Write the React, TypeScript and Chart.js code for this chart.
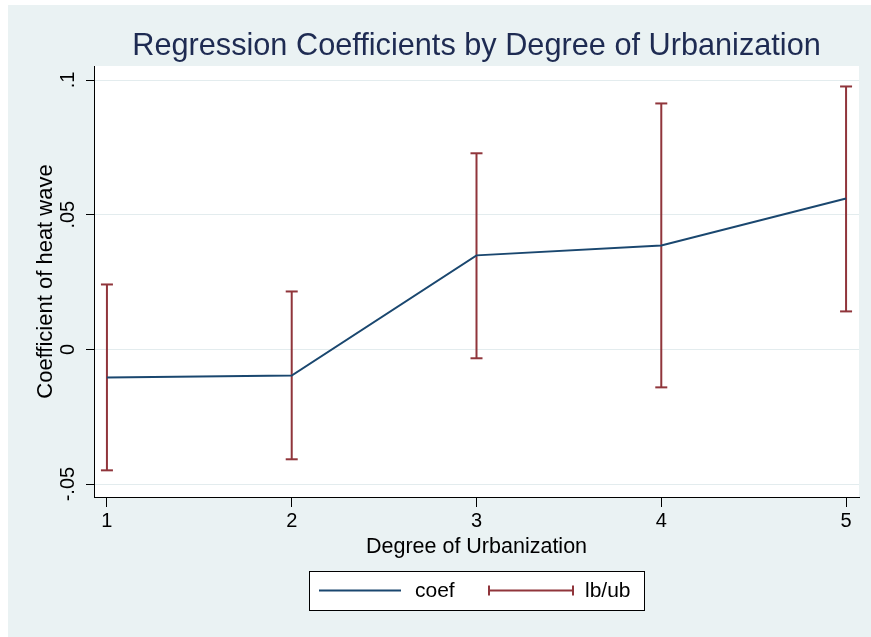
import React, { useEffect, useRef } from "react";
import { Chart, registerables } from "chart.js";

Chart.register(...registerables);

const categories = [1, 2, 3, 4, 5];
const coef = [-0.0104, -0.0097, 0.0349, 0.0386, 0.056];
const lb = [-0.0449, -0.0408, -0.0033, -0.0141, 0.0141];
const ub = [0.0241, 0.0215, 0.0728, 0.0913, 0.0976];
const yTickValues = [-0.05, 0, 0.05, 0.1];
const yTickLabels = ["-.05", "0", ".05", ".1"];
const xTickValues = [1, 2, 3, 4, 5];

const TITLE = "Regression Coefficients by Degree of Urbanization";
const X_TITLE = "Degree of Urbanization";
const Y_TITLE = "Coefficient of heat wave";
const LEGEND_LABELS = ["coef", "lb/ub"];

const FONT = "'Liberation Sans', Arial, Helvetica, sans-serif";
const BG = "#EAF2F3";
const NAVY = "#1a476f";
const MAROON = "#90353b";

export default function App() {
  const ref = useRef<HTMLCanvasElement | null>(null);

  useEffect(() => {
    const canvas = ref.current;
    if (!canvas) return;

    const errData: any[] = [];
    const errRadius: number[] = [];
    categories.forEach((c, i) => {
      errData.push({ x: c, y: lb[i] });
      errData.push({ x: c, y: ub[i] });
      errData.push({ x: c, y: null });
      errRadius.push(6, 6, 0);
    });

    const decor = {
      id: "decor",
      beforeDraw(chart: any) {
        const { ctx, chartArea } = chart;
        ctx.save();
        ctx.fillStyle = "#ffffff";
        ctx.fillRect(0, 0, chart.width, chart.height);
        ctx.fillStyle = BG;
        ctx.fillRect(8, 5, chart.width - 8, chart.height - 5);
        ctx.fillStyle = "#ffffff";
        ctx.fillRect(chartArea.left, chartArea.top, chartArea.right - chartArea.left, chartArea.bottom - chartArea.top);
        ctx.restore();
      },
      afterDraw(chart: any) {
        const { ctx, chartArea, scales } = chart;
        const y = scales.y;
        ctx.save();
        // title
        ctx.fillStyle = "#1e2b52";
        ctx.font = `30.7px ${FONT}`;
        ctx.textAlign = "center";
        ctx.textBaseline = "alphabetic";
        ctx.fillText(TITLE, (chartArea.left + chartArea.right) / 2, 55);

        // y tick labels (rotated)
        ctx.fillStyle = "#000";
        ctx.font = `20px ${FONT}`;
        yTickValues.forEach((v, i) => {
          const py = y.getPixelForValue(v);
          ctx.save();
          ctx.translate(74, py);
          ctx.rotate(-Math.PI / 2);
          ctx.textAlign = "center";
          ctx.textBaseline = "alphabetic";
          ctx.fillText(yTickLabels[i], 0, 0);
          ctx.restore();
        });

        // y title
        ctx.save();
        ctx.font = `22px ${FONT}`;
        ctx.translate(52, (chartArea.top + chartArea.bottom) / 2);
        ctx.rotate(-Math.PI / 2);
        ctx.textAlign = "center";
        ctx.textBaseline = "alphabetic";
        ctx.fillText(Y_TITLE, 0, 0);
        ctx.restore();

        // x title
        ctx.font = `21.5px ${FONT}`;
        ctx.textAlign = "center";
        ctx.textBaseline = "alphabetic";
        ctx.fillText(X_TITLE, (chartArea.left + chartArea.right) / 2, 553);

        // legend
        const bx = 309.5, by = 571.5, bw = 335, bh = 39;
        ctx.fillStyle = "#fff";
        ctx.fillRect(bx, by, bw, bh);
        ctx.strokeStyle = "#000";
        ctx.lineWidth = 1;
        ctx.strokeRect(bx, by, bw, bh);
        const ly = 590.5;
        ctx.strokeStyle = NAVY;
        ctx.lineWidth = 2;
        ctx.beginPath();
        ctx.moveTo(319, ly);
        ctx.lineTo(401, ly);
        ctx.stroke();
        ctx.strokeStyle = MAROON;
        ctx.beginPath();
        ctx.moveTo(489, ly);
        ctx.lineTo(573, ly);
        ctx.moveTo(489, ly - 5);
        ctx.lineTo(489, ly + 5);
        ctx.moveTo(573, ly - 5);
        ctx.lineTo(573, ly + 5);
        ctx.stroke();
        ctx.fillStyle = "#000";
        ctx.font = `21px ${FONT}`;
        ctx.textAlign = "left";
        ctx.textBaseline = "middle";
        ctx.fillText(LEGEND_LABELS[0], 415, ly + 1);
        ctx.fillText(LEGEND_LABELS[1], 585, ly + 1);
        ctx.restore();
      },
    };

    const chart = new Chart(canvas, {
      type: "line",
      data: {
        datasets: [
          {
            label: LEGEND_LABELS[0],
            data: categories.map((c, i) => ({ x: c, y: coef[i] })),
            borderColor: NAVY,
            borderWidth: 2,
            pointRadius: 0,
            tension: 0,
            fill: false,
            order: 1,
          },
          {
            label: LEGEND_LABELS[1],
            data: errData,
            borderColor: MAROON,
            borderWidth: 2,
            pointStyle: "line",
            pointRadius: errRadius,
            pointBorderColor: MAROON,
            pointBorderWidth: 2,
            spanGaps: false,
            fill: false,
            order: 2,
          },
        ],
      },
      options: {
        responsive: false,
        animation: false,
        devicePixelRatio: 1,
        layout: { padding: { top: 66, right: 12, left: 0, bottom: 0 } },
        plugins: {
          legend: { display: false },
          tooltip: { enabled: false },
          title: { display: false },
        },
        scales: {
          x: {
            type: "linear",
            min: 0.93,
            max: 5.07,
            afterBuildTicks: (s: any) => {
              s.ticks = xTickValues.map((v) => ({ value: v }));
            },
            afterFit: (s: any) => {
              s.height = 140;
            },
            grid: { drawOnChartArea: false, drawTicks: true, tickLength: 10, tickColor: "#000", tickWidth: 1 },
            border: { display: true, color: "#000", width: 1 },
            ticks: {
              color: "#000",
              font: { family: FONT, size: 20 },
              padding: 2,
              maxRotation: 0,
              autoSkip: false,
              callback: (v: any) => String(v),
            },
          },
          y: {
            type: "linear",
            min: -0.0548,
            max: 0.1052,
            afterBuildTicks: (s: any) => {
              s.ticks = yTickValues.map((v) => ({ value: v }));
            },
            afterFit: (s: any) => {
              s.width = 94;
            },
            grid: { color: "#E3ECEE", lineWidth: 1, drawTicks: true, tickLength: 8, tickColor: "#000", tickWidth: 1 },
            border: { display: true, color: "#000", width: 1 },
            ticks: { display: false },
          },
        },
      },
      plugins: [decor],
    } as any);

    return () => chart.destroy();
  }, []);

  return (
    <div style={{ position: "fixed", left: 0, top: 0, width: 871, height: 637 }}>
      <canvas ref={ref} width={871} height={637} style={{ width: 871, height: 637, display: "block" }} />
    </div>
  );
}
